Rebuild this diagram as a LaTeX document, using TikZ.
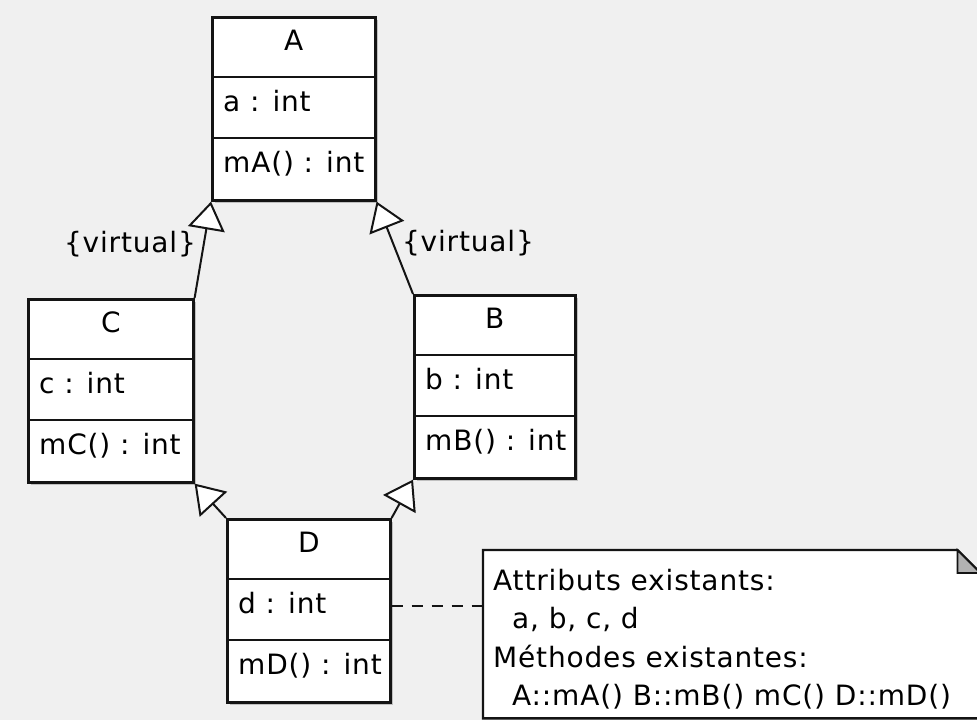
\documentclass[tikz,border=0pt]{standalone}
\usepackage{fontspec}
\setmainfont{DejaVu Sans}[LetterSpace=3]
\usetikzlibrary{arrows.meta,calc,shadows}

% A UML class: name, x, y, width, title, attribute, operation
\newcommand{\umlclass}[7]{%
  \node[classbox, minimum width=#4] (#1) at (#2,#3) {};
  \draw[divider] ($(#1.north west)+(0,61)$) coordinate (#1s1) -- ($(#1.north east)+(0,61)$);
  \draw[divider] ($(#1.north west)+(0,122)$) coordinate (#1s2) -- ($(#1.north east)+(0,122)$);
  \node[lbl, anchor=base] (#1t) at ($(#1.north)+(0,34)$) {#5};
  \node[lbl, anchor=base west] (#1a) at ($(#1.north west)+(12,95)$) {#6};
  \node[lbl, anchor=base west] (#1m) at ($(#1.north west)+(12,156)$) {#7};
}

\begin{document}
\begin{tikzpicture}[x=1pt,y=-1pt,
  font=\fontsize{28}{32}\selectfont,
  ink/.style={draw=black!92},
  classbox/.style={ink, line width=2.6pt, fill=white, minimum height=183pt,
    inner sep=0pt, anchor=north west,
    drop shadow={shadow xshift=3pt, shadow yshift=-3pt, opacity=0.2, fill=black}},
  divider/.style={ink, line width=2.3pt},
  lbl/.style={inner sep=0pt, text=black},
  gen/.style={ink, line width=2pt,
    -{Triangle[fill=white, length=28pt, width=37pt, line width=2pt]}},
  notelink/.style={ink, line width=2pt, dash pattern=on 11pt off 9pt},
]
\useasboundingbox (0,0) rectangle (977,720);
\fill[black!6] (0,0) rectangle (977,720);
\clip (0,0) rectangle (977,720);

\umlclass{A}{211}{16}{163}{A}{a : int}{mA() : int}
\umlclass{C}{27}{298}{165}{C}{c : int}{mC() : int}
\umlclass{B}{413}{294}{161}{B}{b : int}{mB() : int}
\umlclass{D}{226}{518}{163}{D}{d : int}{mD() : int}

% generalisations
\draw[gen] (C.north east) -- (A.south west);
\draw[gen] (B.north west) -- (A.south east);
\draw[gen] (D.north west) -- (C.south east);
\draw[gen] (D.north east) -- (B.south west);

\node[lbl] (vC) at (130,244) {\{virtual\}};
\node[lbl] (vB) at (468,243) {\{virtual\}};

% comment note with folded corner
\node[minimum width=497pt, minimum height=168pt, inner sep=0pt, anchor=north west] (note) at (483,550) {};
\draw[ink, line width=2.4pt, fill=white]
  (note.north west) -- ($(note.north east)+(-23,0)$) -- ($(note.north east)+(0,23)$)
  -- (note.south east) -- (note.south west) -- cycle;
\draw[ink, line width=1.8pt, fill=black!30]
  ($(note.north east)+(-23,0)$) -- ($(note.north east)+(-23,23)$) -- ($(note.north east)+(0,23)$) -- cycle;
\node[lbl, anchor=base west] (n1) at ($(note.north west)+(10,40)$) {Attributs existants:};
\node[lbl, anchor=base west] (n2) at ($(note.north west)+(29,78)$) {a, b, c, d};
\node[lbl, anchor=base west] (n3) at ($(note.north west)+(10,117)$) {Méthodes existantes:};
\node[lbl, anchor=base west] (n4) at ($(note.north west)+(29,155)$) {A::mA() B::mB() mC() D::mD()};

\path ($(D.north east)+(0,88)$) coordinate (dl);
\draw[notelink] (dl) -- (dl -| note.west);
\end{tikzpicture}
\end{document}
